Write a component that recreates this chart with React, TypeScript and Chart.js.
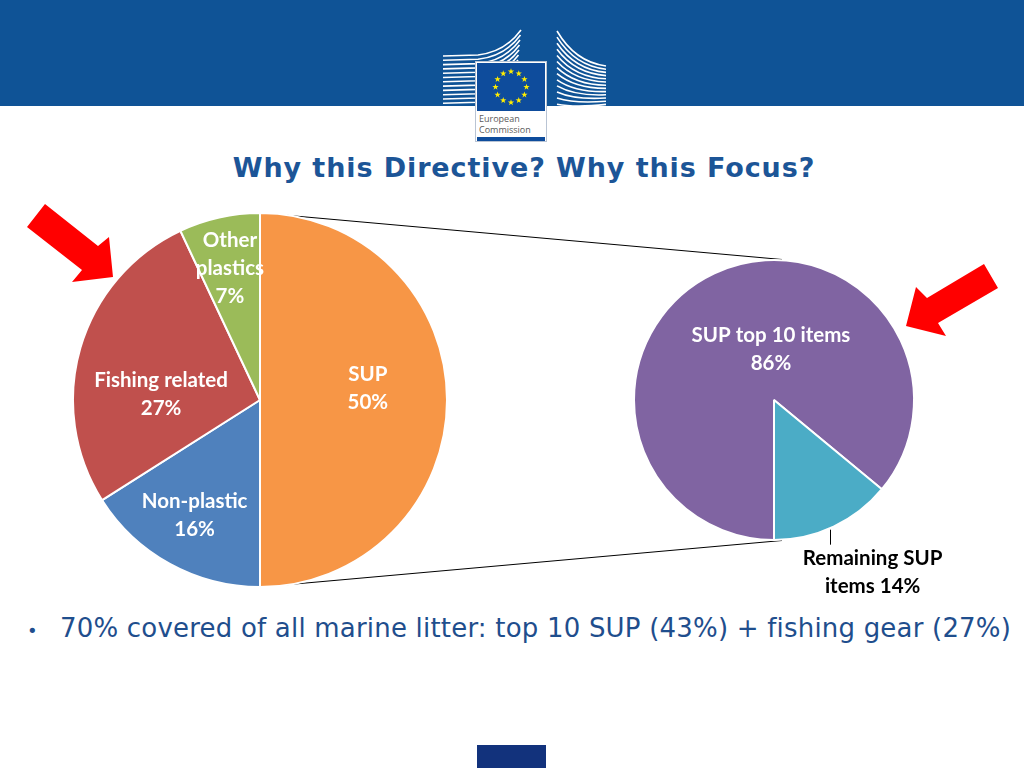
import React, { useEffect, useRef } from "react";
import { Chart, registerables } from "chart.js";

Chart.register(...registerables);

// ---------- data ----------
const leftCategories = ["SUP", "Non-plastic", "Fishing related", "Other plastics"];
const leftValues = [50, 16, 27, 7];
const leftColors = ["#F79646", "#4F81BD", "#C0504D", "#9BBB59"];
const leftLabelLines = [["SUP"], ["Non-plastic"], ["Fishing related"], ["Other", "plastics"]];

const rightCategories = ["SUP top 10 items", "Remaining SUP items"];
const rightValues = [86, 14];
const rightColors = ["#8064A2", "#4BACC6"];
const rightLabelLines = [["SUP top 10 items"], ["Remaining SUP", "items"]];

const titleText = "Why this Directive? Why this Focus?";
const bulletText = "70% covered of all marine litter: top 10 SUP (43%) + fishing gear (27%)";

// label placement (fraction of radius, angular shift in degrees)
const leftPlacement = [
  { r: 0.58, shift: -6.3 },
  { r: 0.71, shift: 0.7 },
  { r: 0.53, shift: -12.7 },
  { r: 0.72, shift: -0.3 },
];
const rightPlacement = [
  { r: 0.365, shift: 21.8 },
  { outside: true },
];

const LABEL_FONT = 'bold 20.5px Lato, "Open Sans", sans-serif';

const sliceLabelPlugin = {
  id: "sliceLabels",
  afterDatasetsDraw(chart: any, _args: any, opts: any) {
    const ctx = chart.ctx as CanvasRenderingContext2D;
    const meta = chart.getDatasetMeta(0);
    const values = chart.data.datasets[0].data;
    ctx.save();
    ctx.font = LABEL_FONT;
    ctx.textAlign = "center";
    ctx.textBaseline = "middle";
    meta.data.forEach((arc: any, i: number) => {
      const p = opts.placement[i];
      const lines: string[] = opts.lines[i].slice();
      const { x, y, startAngle, endAngle, outerRadius } = arc.getProps(
        ["x", "y", "startAngle", "endAngle", "outerRadius"],
        true
      );
      const mid = (startAngle + endAngle) / 2;
      if (p.outside) {
        const ex = x + outerRadius * Math.cos(mid) - 4;
        const ey = y + outerRadius * Math.sin(mid) + 3;
        ctx.strokeStyle = "#000";
        ctx.lineWidth = 1;
        ctx.beginPath();
        ctx.moveTo(Math.round(ex) + 0.5, ey);
        ctx.lineTo(Math.round(ex) + 0.5, ey + 15);
        ctx.stroke();
        lines[lines.length - 1] = lines[lines.length - 1] + " " + values[i] + "%";
        ctx.fillStyle = "#000";
        const cx = ex + 43;
        const cy = ey + 29;
        lines.forEach((t, k) => ctx.fillText(t, cx, cy + k * 28));
      } else {
        const a = mid + (p.shift * Math.PI) / 180;
        const cx = x + p.r * outerRadius * Math.cos(a);
        const cy = y + p.r * outerRadius * Math.sin(a);
        lines.push(values[i] + "%");
        ctx.fillStyle = "#FFFFFF";
        const n = lines.length;
        lines.forEach((t, k) => ctx.fillText(t, cx, cy - ((n - 1) * 28) / 2 + k * 28));
      }
    });
    ctx.restore();
  },
};

function PieCanvas(props: {
  labels: string[];
  values: number[];
  colors: string[];
  lines: string[][];
  placement: any[];
  rotation: number;
  padding: any;
  borderWidth: number;
  style: React.CSSProperties;
  width: number;
  height: number;
}) {
  const ref = useRef<HTMLCanvasElement | null>(null);
  useEffect(() => {
    if (!ref.current) return;
    const chart = new Chart(ref.current, {
      type: "pie",
      data: {
        labels: props.labels,
        datasets: [
          {
            data: props.values,
            backgroundColor: props.colors,
            borderColor: "#FFFFFF",
            borderWidth: props.borderWidth,
          },
        ],
      },
      options: {
        responsive: false,
        animation: false,
        rotation: props.rotation,
        layout: { padding: props.padding },
        plugins: {
          legend: { display: false },
          tooltip: { enabled: false },
          sliceLabels: { lines: props.lines, placement: props.placement },
        } as any,
      },
      plugins: [sliceLabelPlugin as any],
    });
    return () => chart.destroy();
  }, []);
  return <canvas ref={ref} width={props.width} height={props.height} style={{ position: "absolute", ...props.style }} />;
}

function star(cx: number, cy: number, R: number) {
  const pts: string[] = [];
  for (let k = 0; k < 10; k++) {
    const r = k % 2 === 0 ? R : R * 0.4;
    const a = -Math.PI / 2 + (k * Math.PI) / 5;
    pts.push(`${(cx + r * Math.cos(a)).toFixed(2)},${(cy + r * Math.sin(a)).toFixed(2)}`);
  }
  return pts.join(" ");
}

function Header() {
  const leftLines = [];
  for (let i = 0; i < 12; i++) {
    const y0 = 56 + i * 4.3;
    leftLines.push(
      <path
        key={"l" + i}
        d={`M443 ${y0} L478 ${y0 - 1} Q 505 ${y0 - 4} ${521 - i * 0.5} ${30 + i * 5}`}
        stroke="#FFFFFF"
        strokeWidth={1.6}
        fill="none"
      />
    );
  }
  const rightLines = [];
  for (let i = 0; i < 13; i++) {
    const ys = 31 + i * 6.1;
    const ye = 66 + i * 3.2;
    rightLines.push(
      <path
        key={"r" + i}
        d={`M557 ${ys} Q 575 ${ye - 4 + i * 0.6} 606 ${ye}`}
        stroke="#FFFFFF"
        strokeWidth={1.6}
        fill="none"
      />
    );
  }
  const stars = [];
  for (let k = 0; k < 12; k++) {
    const a = (k * Math.PI) / 6;
    stars.push(<polygon key={k} points={star(511 + 15.5 * Math.sin(a), 87 - 15.5 * Math.cos(a), 3.3)} fill="#FFED00" />);
  }
  return (
    <svg width={1024} height={768} style={{ position: "absolute", left: 0, top: 0 }}>
      <rect x={0} y={0} width={1024} height={106} fill="#0F5396" />
      {leftLines}
      {rightLines}
      <rect x={475.5} y={61.5} width={71} height={80} fill="#FFFFFF" stroke="#B9C4D4" strokeWidth={1} />
      <rect x={477} y={63} width={68} height={48} fill="#0E4C9C" />
      {stars}
      <rect x={477} y={137} width={68} height={4} fill="#0E4C9C" />
      <text x={479} y={122} fontFamily="'Open Sans', sans-serif" fontSize={9} fill="#5A5A5A">European</text>
      <text x={479} y={133} fontFamily="'Open Sans', sans-serif" fontSize={9} fill="#5A5A5A">Commission</text>
      {/* connector lines */}
      <line x1={278} y1={214.5} x2={782} y2={259.5} stroke="#000" strokeWidth={1} />
      <line x1={278} y1={585.5} x2={782} y2={540.5} stroke="#000" strokeWidth={1} />
      {/* red arrows */}
      <polygon points="45,204 98,246 109,237 113,277 72,282 82,270 27,227" fill="#FF0000" />
      <polygon points="984,264 927,298 916,287 906,326 946,336 938,323 998,288" fill="#FF0000" />
      <rect x={477} y={745} width={69} height={23} fill="#12327C" />
    </svg>
  );
}

export default function App() {
  useEffect(() => {
    document.body.style.margin = "0";
  }, []);
  return (
    <div style={{ position: "fixed", left: 0, top: 0, width: 1024, height: 768, background: "#FFFFFF", overflow: "hidden" }}>
      <Header />
      <div
        style={{
          position: "absolute",
          left: 124,
          width: 800,
          top: 152,
          lineHeight: "32px",
          textAlign: "center",
          fontFamily: "'DejaVu Sans', Verdana, sans-serif",
          fontWeight: "bold",
          fontSize: 27,
          letterSpacing: "0.9px",
          color: "#1C5597",
        }}
      >
        {titleText}
      </div>
      <PieCanvas
        labels={leftCategories}
        values={leftValues}
        colors={leftColors}
        lines={leftLabelLines}
        placement={leftPlacement}
        rotation={0}
        padding={0}
        borderWidth={2}
        width={376}
        height={376}
        style={{ left: 72, top: 212 }}
      />
      <PieCanvas
        labels={rightCategories}
        values={rightValues}
        colors={rightColors}
        lines={rightLabelLines}
        placement={rightPlacement}
        rotation={180}
        padding={{ left: 9, top: 9, right: 109, bottom: 69 }}
        borderWidth={2}
        width={400}
        height={360}
        style={{ left: 624, top: 250 }}
      />
      <div
        style={{
          position: "absolute",
          left: 27,
          top: 613,
          lineHeight: "30px",
          fontFamily: "'DejaVu Sans', Verdana, sans-serif",
          fontSize: 26,
          letterSpacing: "0.2px",
          color: "#1F4E8D",
          whiteSpace: "nowrap",
        }}
      >
        <span style={{ fontSize: 18, display: "inline-block", width: 33, letterSpacing: 0 }}>•</span>
        {bulletText}
      </div>
    </div>
  );
}
